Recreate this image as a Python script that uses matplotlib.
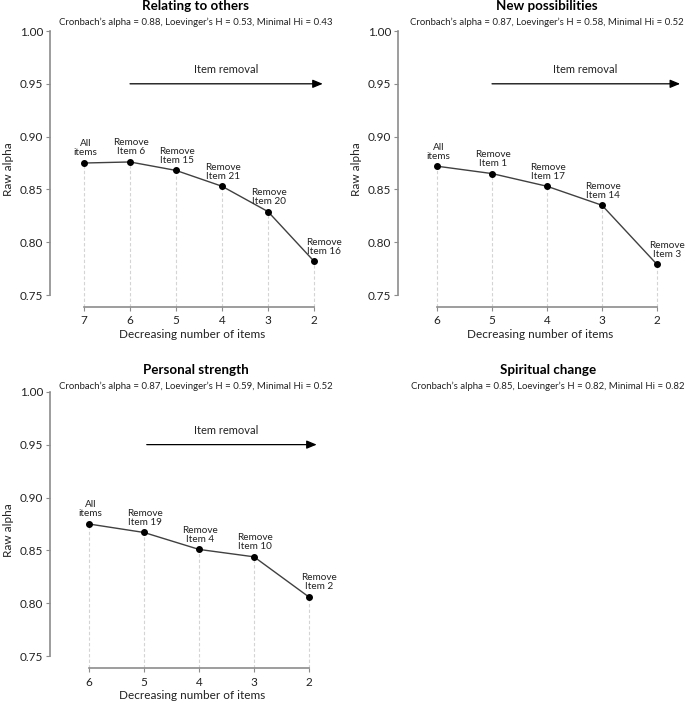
import numpy as np
import matplotlib
matplotlib.use("Agg")
import matplotlib.pyplot as plt

plt.rcParams['font.family'] = ['Lato', 'DejaVu Sans']

# panel data
titles = ["Relating to others", "New possibilities", "Personal strength", "Spiritual change"]
subtitles = [
    "Cronbach\u2019s alpha = 0.88, Loevinger\u2019s H = 0.53, Minimal Hi = 0.43",
    "Cronbach\u2019s alpha = 0.87, Loevinger\u2019s H = 0.58, Minimal Hi = 0.52",
    "Cronbach\u2019s alpha = 0.87, Loevinger\u2019s H = 0.59, Minimal Hi = 0.52",
    "Cronbach\u2019s alpha = 0.85, Loevinger\u2019s H = 0.82, Minimal Hi = 0.82",
]

rel_n = [7, 6, 5, 4, 3, 2]
rel_alpha = [0.875, 0.876, 0.868, 0.853, 0.829, 0.782]
rel_labels = ["All\nitems", "Remove\nItem 6", "Remove\nItem 15", "Remove\nItem 21",
              "Remove\nItem 20", "Remove\nItem 16"]

new_n = [6, 5, 4, 3, 2]
new_alpha = [0.872, 0.865, 0.853, 0.835, 0.779]
new_labels = ["All\nitems", "Remove\nItem 1", "Remove\nItem 17", "Remove\nItem 14",
              "Remove\nItem 3"]

per_n = [6, 5, 4, 3, 2]
per_alpha = [0.875, 0.867, 0.851, 0.844, 0.806]
per_labels = ["All\nitems", "Remove\nItem 19", "Remove\nItem 4", "Remove\nItem 10",
              "Remove\nItem 2"]

W, H = 685, 703
fig = plt.figure(figsize=(W / 100, H / 100), dpi=100)

grey = "#8c8c8c"
ybot = 0.75 - 12 / 53 * 0.05


def px_axes(left, top, right, bottom):
    return fig.add_axes([left / W, 1 - bottom / H, (right - left) / W, (bottom - top) / H])


def panel(ax, n, alpha, labels, xlim, arrow_x, text_x):
    ax.set_xlim(*xlim)
    ax.set_ylim(ybot, 1.0)
    for xi, yi in zip(n, alpha):
        ax.plot([xi, xi], [ybot, yi], color="#d4d4d4", lw=0.8, ls=(0, (3, 2)), zorder=1)
    ax.plot(n, alpha, color="#404040", lw=1.0, zorder=2)
    ax.plot(n, alpha, "o", color="black", ms=4, zorder=3)
    for i, (xi, yi, lab) in enumerate(zip(n, alpha, labels)):
        dx = 7 if i == len(n) - 1 else 1
        ax.annotate(lab, (xi, yi), xytext=(dx, 4), textcoords="offset points",
                    ha="center", va="bottom", fontsize=7.2, linespacing=1.0,
                    color="#222222", annotation_clip=False)
    ax.annotate("", xy=(arrow_x[1], 0.95), xytext=(arrow_x[0], 0.95),
                arrowprops=dict(arrowstyle="-|>,head_length=0.6,head_width=0.25",
                                color="black", lw=0.9, shrinkA=0, shrinkB=0),
                annotation_clip=False)
    ax.text(text_x, 0.9585, "Item removal", ha="center", va="bottom", fontsize=8,
            color="#222222")
    for s in ["top", "right"]:
        ax.spines[s].set_visible(False)
    ax.spines["left"].set_bounds(0.75, 1.0)
    ax.spines["bottom"].set_bounds(min(n), max(n))
    for s in ["left", "bottom"]:
        ax.spines[s].set_color(grey)
        ax.spines[s].set_linewidth(1.2)
    ax.set_yticks([0.75, 0.80, 0.85, 0.90, 0.95, 1.00])
    ax.set_yticklabels(["0.75", "0.80", "0.85", "0.90", "0.95", "1.00"])
    ax.set_xticks(n)
    ax.tick_params(axis="both", colors=grey, labelcolor="#222222", labelsize=8.5,
                   length=3, width=0.8, pad=2)
    ax.tick_params(axis="x", pad=3)
    ax.set_ylabel("Raw alpha", fontsize=8.5, color="#222222", labelpad=4)
    ax.set_xlabel("Decreasing number of items", fontsize=8.5, color="#222222", labelpad=2)
    ax.patch.set_visible(False)


ax1 = px_axes(50, 31, 335, 307)
panel(ax1, rel_n, rel_alpha, rel_labels, (7 + 34 / 46, 7 + 34 / 46 - 285 / 46),
      (6, 1.81), 3.9)

ax2 = px_axes(398, 31, 683, 307)
panel(ax2, new_n, new_alpha, new_labels, (6 + 39 / 55, 6 + 39 / 55 - 285 / 55),
      (5, 1.58), 3.31)

ax3 = px_axes(50, 391.7, 335, 668.3)
panel(ax3, per_n, per_alpha, per_labels, (6 + 39 / 55, 6 + 39 / 55 - 285 / 55),
      (4.95, 1.86), 3.5)

title_pos = [(196, 6.5), (547, 6.5), (196, 370.5), (548, 370.5)]
for t, s, (cx, cy) in zip(titles, subtitles, title_pos):
    fig.text(cx / W, 1 - cy / H, t, ha="center", va="center", fontsize=9.6,
             fontweight="bold", color="black")
    fig.text(cx / W, 1 - (cy + 16) / H, s, ha="center", va="center", fontsize=6.9,
             color="#222222")

fig.savefig("out.png", dpi=100)
